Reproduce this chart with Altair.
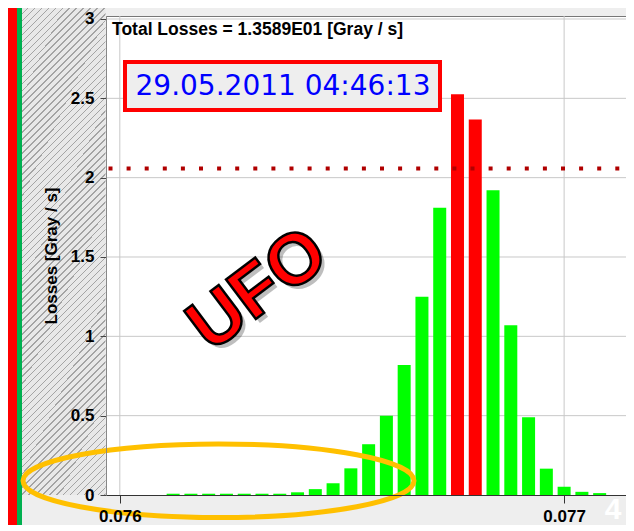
import altair as alt
import pandas as pd

# ---- data ----
bin_centers = [0.07612, 0.07616, 0.07620, 0.07624, 0.07628, 0.07632, 0.07636,
               0.07640, 0.07644, 0.07648, 0.07652, 0.07656, 0.07660, 0.07664,
               0.07668, 0.07672, 0.07676, 0.07680, 0.07684, 0.07688, 0.07692,
               0.07696, 0.07700, 0.07704, 0.07708]
losses = [0.008, 0.008, 0.008, 0.008, 0.008, 0.008, 0.008,
          0.017, 0.037, 0.074, 0.168, 0.32, 0.50, 0.82,
          1.25, 1.81, 2.525, 2.366, 1.92, 1.07, 0.49,
          0.166, 0.052, 0.02, 0.012]
threshold = [2.057]
x_ticks = [0.076, 0.077]
y_ticks = [0, 0.5, 1, 1.5, 2, 2.5, 3]
title_text = ["Total Losses = 1.3589E01 [Gray / s]"]
date_text = ["29.05.2011 04:46:13"]
ufo_text = ["UFO"]
corner_text = ["4"]

W, H = 520, 479
FONT = "Liberation Sans"

bars_df = pd.DataFrame({
    "x": bin_centers,
    "v": losses,
    "s": ["above" if v > threshold[0] else "below" for v in losses],
})

xscale = alt.Scale(domain=[0.07598013, 0.07712803], nice=False, zero=False)
yscale = alt.Scale(domain=[0, 3.0189], nice=False)

one = pd.DataFrame({"k": [0]})


def box(x, x2, y, y2, **kw):
    return alt.Chart(one).mark_rect(**kw).encode(
        x=alt.value(x), x2=alt.value(x2), y=alt.value(y), y2=alt.value(y2))


# decorative hatch (diagonal stripes) as a hard-stop gradient
N = 82
light, dark = "#e8e8e8", "#a4a4a4"
stops = []
for i in range(N):
    a = i / N
    b = (i + 0.78) / N
    c = (i + 1) / N
    stops += [{"offset": a, "color": light}, {"offset": b, "color": light},
              {"offset": b, "color": dark}, {"offset": c, "color": dark}]
hatch_fill = {"gradient": "linear", "x1": 0, "y1": 0, "x2": 0.1964, "y2": 1.1386,
              "stops": stops}

red_strip = box(-98, -89, -8, 509, color="#ff0000")
green_strip = box(-89, -84, -8, 509, color="#00b050")
hatch = alt.Chart(one).mark_rect().encode(
    x=alt.value(-84), x2=alt.value(-0.5), y=alt.value(-8), y2=alt.value(479),
    fill=alt.value(hatch_fill))

# grid lines (drawn under the bars)
vgrid = alt.Chart(pd.DataFrame({"g": x_ticks})).mark_rule(
    color="#c8c8c8", strokeWidth=1).encode(x=alt.X("g:Q", scale=xscale))
hgrid = alt.Chart(pd.DataFrame({"g": y_ticks[1:]})).mark_rule(
    color="#c8c8c8", strokeWidth=1).encode(y=alt.Y("g:Q", scale=yscale))

bars = alt.Chart(bars_df).mark_bar(size=13).encode(
    x=alt.X("x:Q", scale=xscale,
            axis=alt.Axis(values=x_ticks, format=".3f", title=None, tickSize=8,
                          labelPadding=5, domainColor="#333333", tickColor="#333333",
                          grid=False, labelFlush=False, zindex=1)),
    y=alt.Y("v:Q", scale=yscale,
            axis=alt.Axis(values=y_ticks, format="~g", title="Losses [Gray / s]",
                          tickSize=6, labelPadding=6, titlePadding=10,
                          domainColor="#888888", tickColor="#444444",
                          grid=False, zindex=1)),
    color=alt.Color("s:N", scale=alt.Scale(domain=["below", "above"],
                                           range=["#00ff00", "#ff0000"]), legend=None),
)

rule = alt.Chart(pd.DataFrame({"t": threshold})).mark_rule(
    color="#b00000", strokeWidth=4, strokeDash=[4, 14.1], strokeDashOffset=11.4
).encode(y=alt.Y("t:Q", scale=yscale))

title = alt.Chart(pd.DataFrame({"t": title_text})).mark_text(
    align="left", baseline="middle", font=FONT, fontWeight="bold", fontSize=17.5,
    color="black").encode(x=alt.value(6), y=alt.value(14), text="t:N")

date_box = box(19, 334, 46, 94, fill="#eeeeee", stroke="#ff0000", strokeWidth=4)
date = alt.Chart(pd.DataFrame({"t": date_text})).mark_text(
    align="center", baseline="middle", font="DejaVu Sans", fontSize=28,
    color="#0000ff").encode(x=alt.value(177), y=alt.value(71), text="t:N")

ufo_shadow = alt.Chart(pd.DataFrame({"t": ufo_text})).mark_text(
    align="center", baseline="middle", font=FONT, fontWeight="bold", fontSize=72,
    angle=323, color="#000000", opacity=0.25).encode(
    x=alt.value(156), y=alt.value(278), text="t:N")
ufo = alt.Chart(pd.DataFrame({"t": ufo_text})).mark_text(
    align="center", baseline="middle", font=FONT, fontWeight="bold", fontSize=72,
    angle=323, fill="#ff0000", stroke="#000000", strokeWidth=2.5).encode(
    x=alt.value(152), y=alt.value(274), text="t:N")

ell_path = ("M -1 0 C -1 -0.104 -0.552 -0.188 0 -0.188 C 0.552 -0.188 1 -0.104 1 0 "
            "C 1 0.104 0.552 0.188 0 0.188 C -0.552 0.188 -1 0.104 -1 0 Z")
ellipse = alt.Chart(one).mark_point(
    shape=ell_path, size=152881, filled=False, stroke="#ffc000", strokeWidth=5,
    opacity=1).encode(x=alt.value(112.5), y=alt.value(464.75))

corner = alt.Chart(pd.DataFrame({"t": corner_text})).mark_text(
    align="center", baseline="middle", font=FONT, fontWeight="bold", fontSize=30,
    color="#ffffff").encode(x=alt.value(507), y=alt.value(494), text="t:N")

chart = alt.layer(
    red_strip, green_strip, hatch, vgrid, hgrid, bars, rule, date_box, date, title,
    ufo_shadow, ufo, ellipse, corner
).properties(
    width=W, height=H,
    autosize=alt.AutoSizeParams(type="none"),
    padding={"left": 98, "top": 8, "right": 0, "bottom": 30},
    background="#eeeeee",
).configure_view(
    fill="#ffffff", stroke="#777777", strokeWidth=1
).configure_axis(
    labelFont=FONT, labelFontWeight="bold", labelFontSize=17, labelColor="#000000",
    titleFont=FONT, titleFontWeight="bold", titleFontSize=17, titleColor="#000000",
)

chart.save("out.html", embed_options={"renderer": "svg", "actions": False})
